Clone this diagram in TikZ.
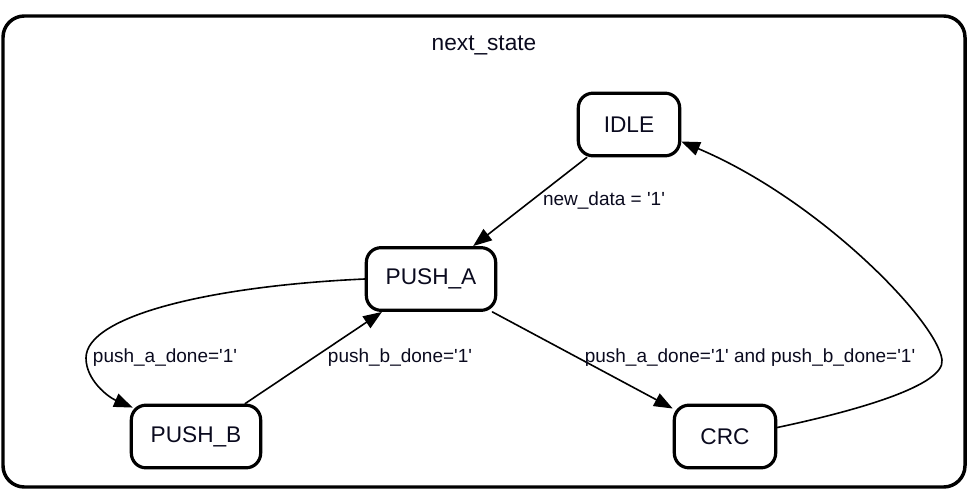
\documentclass[tikz,border=0pt]{standalone}
\usepackage{fontspec}
\setmainfont{Liberation Sans}
\usepackage{xcolor}
\usepackage{tikz}
\usetikzlibrary{arrows.meta,positioning}
\definecolor{ink}{HTML}{000000}
\definecolor{labelink}{HTML}{0A0A1E}
\newcommand{\qone}{\textquotesingle 1\textquotesingle}
\tikzset{
    every picture/.style={line cap=round,line join=round},
    statenode/.style={draw=ink,fill=white,line width=2.4pt,rounded corners=11pt,
      minimum height=47pt,inner sep=2pt,font=\fontsize{17}{20}\selectfont,
      text=labelink,align=center},
    smallstate/.style={statenode,minimum width=76pt},
    widestate/.style={statenode,minimum width=97pt},
    clusterbox/.style={draw=ink,line width=2.6pt,rounded corners=16pt},
    transarrow/.style={-{Triangle[length=14pt,width=10.5pt]},draw=ink,
      line width=1.2pt},
    guardlabel/.style={inner sep=1pt,text=labelink,
      font=\fontsize{14.25}{17}\selectfont}
}
\begin{document}
\begin{tikzpicture}[x=0.75pt,y=-0.75pt]
  \useasboundingbox (0,0) rectangle (973,502);
  % cluster frame
  \draw[clusterbox] (3,16) rectangle (965,487);
  \node[font=\fontsize{17}{20}\selectfont,text=labelink] (title) at (484,45) {next\_state};
  % states
  \node[smallstate] (idle) at (629,124.5) {IDLE};
  \node[widestate] (pusha) at (431,279) {PUSH\_A};
  \node[widestate] (pushb) at (196,436.5) {PUSH\_B};
  \node[smallstate] (crc) at (725,436.5) {CRC};
  % transitions
  \draw[transarrow] (idle) -- (pusha);
  \draw[transarrow] (pusha.west) .. controls (210,286) and (86,316) .. (86,358)
    .. controls (86,380) and (108,397) .. ([shift={(3,4)}]pushb.north west);
  \draw[transarrow] (pushb) -- (pusha);
  \draw[transarrow] (pusha) -- (crc);
  \draw[transarrow] ([shift={(0,-9)}]crc.east) .. controls (860,410) and (945,385) .. (942,360)
    .. controls (938,322) and (820,200) .. ([shift={(0,17)}]idle.east);
  % guards
  \node[guardlabel] (gnew) at (604,201) {new\_data = \qone};
  \node[guardlabel] (gpa) at (165,358) {push\_a\_done=\qone};
  \node[guardlabel] (gpb) at (400,358) {push\_b\_done=\qone};
  \node[guardlabel] (gboth) at (750,358) {push\_a\_done=\qone{} and push\_b\_done=\qone};
\end{tikzpicture}
\end{document}
